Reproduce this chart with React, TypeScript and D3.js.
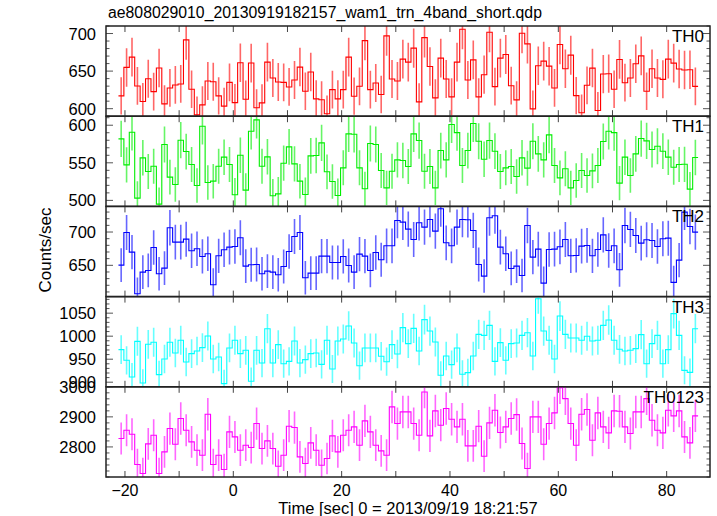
import React from "react";
import * as d3 from "d3";

const TIME_START = -21.2;
const BIN = 1;

const TH0 = [617.0, 654.9, 668.6, 630.2, 609.5, 639.9, 622.7, 654.1, 606.4, 627.6, 631.6, 632.9, 691.5, 625.8, 591.8, 605.1, 636.8, 635.9, 617.0, 603.4, 635.0, 608.1, 661.1, 612.6, 660.7, 601.2, 607.7, 662.0, 640.8, 635.5, 635.0, 628.9, 638.1, 655.3,
  623.2, 648.8, 613.1, 611.8, 593.2, 625.4, 613.1, 625.4, 668.6, 616.6, 629.8, 690.6, 625.4, 634.2, 618.8, 696.8, 639.5, 636.8, 665.9, 662.0, 680.5, 609.0, 694.6, 656.2, 614.4, 667.3, 639.5, 615.7, 662.0, 705.7, 638.1, 665.0, 615.7, 645.2,
  701.6, 629.3, 667.2, 672.1, 630.6, 611.7, 700.3, 686.2, 599.8, 657.1, 663.3, 656.6, 627.6, 685.3, 653.1, 671.2, 617.4, 594.5, 631.1, 654.0, 597.6, 646.1, 646.5, 625.8, 665.5, 634.6, 640.8, 659.7, 670.3, 623.1, 653.1, 640.8, 639.0, 665.9, 660.6, 652.7, 651.4, 651.8, 629.7];

const TH1 = [581.8, 547.3, 590.7, 503, 556.6, 538.4, 545.5, 495, 574.3, 530.9,
  521.1, 580.1, 565, 547.7, 519.8, 598.7, 523.8, 525.6, 545.5, 557.5,
  547.7, 507.4, 560.1, 513.6, 592, 607.1, 545.5, 557.9, 506.1, 508.7,
  549.5, 571.2, 548.6, 525.6, 507.8, 559.2, 559.7, 576.5, 538, 525.1,
  506.5, 543.3, 588.5, 588, 543.3, 515.4, 575.6, 574.3, 539.7, 516.7,
  538.8, 553.9, 553, 545, 588.5, 579.6, 538.8, 545, 516.7, 566.3,
  553.9, 600.9, 590.2, 546.4, 566.3, 602.2, 578.7, 554.8, 579.6, 565.4,
  538.4, 543.3, 545, 531.8, 556.6, 542.9, 578.7, 561.9, 553.9, 587.1,
  546.4, 530, 542, 516.7, 526.5, 539.7, 533.1, 539.3, 546.4, 578.3,
  592, 590.2, 522.9, 557.5, 533.1, 561.9, 582.3, 579.2, 567.7, 572.1,
  565.4, 557.5, 544.1, 547.7, 548, 515, 557];

const TH2 = [650.3, 699.3, 669.8, 607.2, 639.8, 642.3, 676.8, 637.3, 645.8, 706.4,
  684.8, 684.8, 689.3, 671.8, 674.8, 663.3, 667.3, 620.8, 664.3, 673.3,
  677.3, 678.3, 691.3, 648.8, 650.8, 651.3, 637.3, 641.3, 639.8, 635.8,
  648.3, 670.8, 693.3, 699.3, 631.3, 638.3, 638.3, 663.8, 663.8, 654.3,
  654.3, 663.3, 649.8, 639.8, 666.8, 663.8, 642.3, 669.3, 658.3, 679.3,
  679.3, 717.4, 714.9, 704.4, 688.8, 713.9, 707.4, 718.9, 701.4, 734.9,
  683.8, 679.3, 707.4, 718.9, 718.4, 702.4, 651.3, 633.8, 721.4, 724.4,
  677.3, 667.3, 645.3, 648.8, 634.8, 709.9, 662.3, 674.3, 623.3, 673.8,
  674.3, 677.8, 688.8, 664.3, 664.8, 678.8, 679.8, 664.3, 673.8, 695.8,
  672.3, 679.3, 643.3, 709.9, 703.9, 694.8, 683.3, 688.3, 687.3, 678.3,
  689.8, 690.8, 624.3, 657.8, 729.9, 708.4, 699.8];

const TH3 = [970.7, 947.6, 911.4, 988.8, 898.4, 982.3, 986.7, 916.5, 950.5, 986.7,
  963.5, 991, 943.9, 962.1, 967.9, 975.1, 1000.4, 950.5, 954.8, 897,
  974.4, 991, 962.1, 969.3, 902, 969.3, 941.7, 1016.3, 941.7, 981.6,
  940.2, 945.3, 989.6, 941.7, 949.1, 962.1, 963.5, 938.8, 991, 928.7,
  989.6, 993.9, 1022.1, 985.2, 935.9, 974.4, 974.4, 974.4, 956.3, 944.5,
  981.6, 961.4, 1018.5, 983.8, 1017, 967.9, 1035.9, 1011.2, 987.4, 915,
  957, 938.1, 974.4, 917.2, 920.8, 957, 1004, 1001.8, 1023.5, 945.3,
  985.9, 947.6, 983.8, 985.2, 1001.8, 1007.6, 957, 1081.4, 1011.2, 991,
  950.5, 1043.8, 1004, 996.1, 996.1, 991, 999.7, 989.6, 991, 1023.5,
  1035.2, 991, 971.5, 967.9, 969.3, 972.9, 1003.3, 940.2, 983.8, 1001.8,
  940.2, 970.7, 1048.9, 1001.8, 925.8, 921.4, 1016.3];

const TH0123 = [2827.9, 2855.5, 2842.3, 2741.5, 2711.6, 2810.2, 2839, 2711.6, 2783.6, 2861.1,
  2809.1, 2894.4, 2855.5, 2816.8, 2789.1, 2772.5, 2908.7, 2741.5, 2772.5, 2724.9,
  2850, 2833.4, 2789.1, 2805.8, 2798, 2877.7, 2794.7, 2820.2, 2794.7, 2736,
  2772.5, 2868.9, 2864.5, 2767, 2744.8, 2813.5, 2789.1, 2739.3, 2761.5, 2836.8,
  2783.6, 2839, 2855.5, 2866.7, 2805.8, 2886.6, 2850, 2805.8, 2786.9, 2772.5,
  2933.1, 2877.7, 2916.5, 2916.5, 2877.7, 2839, 2982.9, 2836.8, 2919.8, 2872.2,
  2927.6, 2892.1, 2866.7, 2892.1, 2803.6, 2803.6, 2868.9, 2769.2, 2879.9, 2922,
  2847.8, 2866.7, 2894.4, 2907.6, 2811.3, 2728.2, 2899.9, 2899.9, 2809.1, 2877.7,
  2913.2, 2997.3, 2960.8, 2877.7, 2805.8, 2908.7, 2924.3, 2822.4, 2913.2, 2866.7,
  2846.7, 2919.8, 2918.7, 2866.7, 2844.5, 2916.5, 2916.5, 2960.8, 2888.8, 2855.5,
  2846.7, 2922, 2903.2, 2919.8, 2833.4, 2813.5, 2903.2];

const PANEL_NAMES = ["TH0", "TH1", "TH2", "TH3", "TH0123"];
const PANEL_VALUES = [TH0, TH1, TH2, TH3, TH0123];
const PANEL_COLORS = ["#ff0000", "#00ee00", "#0000ff", "#00ffff", "#ff00ff"];
const PANEL_DOMAINS = [[590, 710], [492, 612], [603, 738.5], [890, 1086], [2700, 3000]];
const PANEL_MAJOR = [[600, 650, 700], [500, 550, 600], [650, 700], [900, 950, 1000, 1050], [2800, 2900, 3000]];
const PANEL_MINOR = [10, 10, 10, 10, 20];
const X_TICKS = [-20, 0, 20, 40, 60, 80];

const TITLE = "ae808029010_20130919182157_wam1_trn_4band_short.qdp";
const XLABEL = "Time [sec] 0 = 2013/09/19 18:21:57";
const YLABEL = "Counts/sec";

const W = 717, H = 516;
const LEFT = 106, RIGHT = 710, TOP = 26, BOTTOM = 477;
const FONT = "'Liberation Sans', Arial, Helvetica, sans-serif";

export default function App() {
  const x = d3.scaleLinear().domain([-23.5, 88]).range([LEFT, RIGHT]);
  const ph = (BOTTOM - TOP) / PANEL_NAMES.length;
  return (
    <svg width={W} height={H} style={{ position: "absolute", left: 0, top: 0, background: "#fff" }} fontFamily={FONT}>
      <rect width={W} height={H} fill="#fff" />
      <text x={108} y={18} fontSize={15.8} fill="#000">{TITLE}</text>
      {PANEL_NAMES.map((name, pi) => {
        const top = TOP + pi * ph;
        const bot = top + ph;
        const dom = PANEL_DOMAINS[pi];
        const y = d3.scaleLinear().domain(dom).range([bot, top]);
        const vals = PANEL_VALUES[pi];
        const color = PANEL_COLORS[pi];
        const pts: [number, number][] = vals.map((v, i) => [TIME_START + i * BIN, v]);
        pts.push([TIME_START + vals.length * BIN, vals[vals.length - 1]]);
        const line = d3.line<[number, number]>().x(d => x(d[0])).y(d => y(d[1])).curve(d3.curveStepAfter);
        const minorTicks = d3.range(Math.ceil(dom[0] / PANEL_MINOR[pi]) * PANEL_MINOR[pi], dom[1] + 0.001, PANEL_MINOR[pi]);
        const clipId = `clip${pi}`;
        const xt = d3.range(-20, 88, 10);
        return (
          <g key={name}>
            <defs>
              <clipPath id={clipId}><rect x={LEFT} y={top} width={RIGHT - LEFT} height={ph} /></clipPath>
            </defs>
            <g clipPath={`url(#${clipId})`}>
              {vals.map((v, i) => {
                const cx = x(TIME_START + (i + 0.5) * BIN);
                const e = Math.sqrt(v);
                return <line key={i} x1={cx} x2={cx} y1={y(v - e)} y2={y(v + e)} stroke={color} strokeWidth={1.6} strokeOpacity={0.6} />;
              })}
              <path d={line(pts) || ""} fill="none" stroke={color} strokeWidth={1.1} />
            </g>
            {minorTicks.map(t => {
              const major = PANEL_MAJOR[pi].includes(t);
              const len = major ? 7 : 3.5;
              return (
                <g key={t} stroke="#555" strokeWidth={1}>
                  <line x1={LEFT} x2={LEFT + len} y1={y(t)} y2={y(t)} />
                  <line x1={RIGHT} x2={RIGHT - len} y1={y(t)} y2={y(t)} />
                </g>
              );
            })}
            {xt.map(t => (
              <g key={t} stroke="#444" strokeWidth={1}>
                <line x1={x(t)} x2={x(t)} y1={top} y2={top + 6} />
                <line x1={x(t)} x2={x(t)} y1={bot} y2={bot - 6} />
              </g>
            ))}
            {PANEL_MAJOR[pi].map(t => (
              <text key={t} x={96} y={y(t) + 6} fontSize={16.5} textAnchor="end" fill="#000">{t}</text>
            ))}
            <text x={704} y={top + 16} fontSize={17} textAnchor="end" fill="#000">{name}</text>
            <rect x={LEFT} y={top} width={RIGHT - LEFT} height={ph} fill="none" stroke="#222" strokeWidth={1.5} />
          </g>
        );
      })}
      {X_TICKS.map(t => (
        <text key={t} x={x(t)} y={495.5} fontSize={16} textAnchor="middle" fill="#000">{t < 0 ? `\u2212${-t}` : t}</text>
      ))}
      <text x={408} y={514} fontSize={16.5} textAnchor="middle" fill="#000">{XLABEL}</text>
      <text transform={`translate(51,250) rotate(-90)`} fontSize={17} textAnchor="middle" fill="#000">{YLABEL}</text>
    </svg>
  );
}
